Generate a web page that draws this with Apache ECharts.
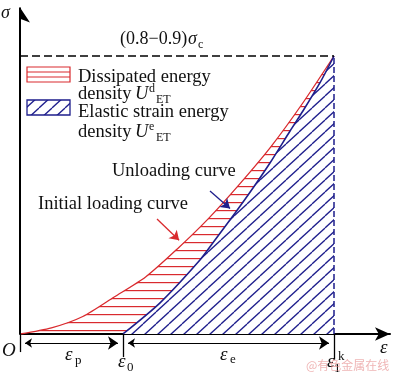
<!DOCTYPE html>
<html><head><meta charset="utf-8">
<script src="https://cdn.jsdelivr.net/npm/echarts/dist/echarts.min.js"></script>
<style>html,body{margin:0;padding:0;background:#fff}#c{width:400px;height:376px}</style>
</head><body><div id="c"></div>
<script>
// ---- data (normalised strain / stress) ----
const loadStrain   = [0, 0.1, 0.2, 0.3, 0.4, 0.5, 0.6, 0.7, 0.8, 0.9, 1.0];
const loadStress   = [0, 0.022, 0.063, 0.133, 0.205, 0.305, 0.415, 0.54, 0.675, 0.83, 1.0];
const unloadStrain = [0.328, 0.446, 0.573, 0.621, 0.685, 0.742, 0.796, 0.860, 0.901, 0.955, 1.0];
const unloadStress = [0, 0.112, 0.266, 0.338, 0.435, 0.525, 0.615, 0.730, 0.802, 0.903, 1.0];
const strainMarks  = [0, 0.328, 1.0];          // O, eps0, eps1k
const tickDepth    = [0.065, 0.083, 0.092];     // dimension tick lengths below axis
const peakStress   = 1.0;
const dimLevel     = -0.0324;
const redArrow     = [[0.4363, 0.4137], [0.5067, 0.3374]];
const blueArrow    = [[0.6051, 0.5144], [0.6688, 0.4518]];

const RED = '#d92a2e', NAVY = '#1e1e8c';
const SERIF = '"Liberation Serif","Times New Roman",serif';

function makePattern(w, h, draw) {
  const c = document.createElement('canvas'); c.width = w; c.height = h;
  const g = c.getContext('2d'); draw(g, w, h); return c;
}
const redPat = makePattern(4, 8, (g, w, h) => { g.fillStyle = RED; g.fillRect(0, 2, w, 1.2); });
const bluePat = makePattern(13, 12, (g, w, h) => {
  g.fillStyle = '#fff'; g.fillRect(0, 0, w, h);
  g.strokeStyle = NAVY; g.lineWidth = 1.3;
  for (let k = -1; k <= 1; k++) { g.beginPath(); g.moveTo(0, h + k * h); g.lineTo(w, k * h); g.stroke(); }
});

const pair = (xs, ys) => xs.map((x, i) => [x, ys[i]]);

function T(x, base, text, size, opt) {
  opt = opt || {};
  return { type: 'text', x: x, y: base - 0.34 * size, z: 100,
    style: { text: text, fontSize: size, fontFamily: opt.family || SERIF,
      fontStyle: opt.italic ? 'italic' : 'normal', fill: opt.color || '#111',
      verticalAlign: 'middle', align: 'left' } };
}
function L(x1, y1, x2, y2, color, w) {
  return { type: 'line', z: 91, shape: { x1, y1, x2, y2 }, style: { stroke: color, lineWidth: w } };
}

const chart = echarts.init(document.getElementById('c'), null, { renderer: 'canvas' });
const pxU = 1 / 314;
const inset = 5 * pxU;
const dimData = [
  { coords: [[strainMarks[0] + inset, dimLevel], [strainMarks[1] - inset, dimLevel]] },
  { coords: [[strainMarks[1] + inset, dimLevel], [strainMarks[2] - inset, dimLevel]] }
];
const tickData = strainMarks.map((m, i) => ({ coords: [[m, 0], [m, -tickDepth[i]]] }));

chart.setOption({
  animation: false,
  grid: { left: 20, right: 10, top: 0, bottom: 0 },
  xAxis: { type: 'value', min: 0, max: 1.1783,
    axisLine: { onZero: true, lineStyle: { color: '#000', width: 2 }, symbol: ['none', 'arrow'], symbolSize: [10, 15] },
    axisTick: { show: false }, axisLabel: { show: false }, splitLine: { show: false } },
  yAxis: { type: 'value', min: -0.1511, max: 1.2014,
    axisLine: { show: false }, axisTick: { show: false }, axisLabel: { show: false }, splitLine: { show: false } },
  series: [
    { type: 'line', z: 2, data: pair(loadStrain, loadStress), symbol: 'none', smooth: 0.25,
      lineStyle: { color: RED, width: 1.3 }, areaStyle: { color: { image: redPat, repeat: 'repeat' }, opacity: 1 } },
    { type: 'line', z: 3, data: pair(unloadStrain, unloadStress), symbol: 'none', smooth: 0.25,
      lineStyle: { color: NAVY, width: 1.6 }, areaStyle: { color: { image: bluePat, repeat: 'repeat' }, opacity: 1 } },
    { type: 'lines', coordinateSystem: 'cartesian2d', z: 4, symbol: 'none',
      lineStyle: { color: '#000', width: 1.5, type: [8, 4], opacity: 1 },
      data: [{ coords: [[0, peakStress], [strainMarks[2], peakStress]] }] },
    { type: 'lines', coordinateSystem: 'cartesian2d', z: 4, symbol: 'none',
      lineStyle: { color: NAVY, width: 1.5, type: [6, 3], opacity: 1 },
      data: [{ coords: [[strainMarks[2], 0], [strainMarks[2], peakStress]] }] },
    { type: 'lines', coordinateSystem: 'cartesian2d', z: 5, symbol: ['none', 'arrow'], symbolSize: [10, 15],
      lineStyle: { color: '#000', width: 2, opacity: 1 },
      data: [{ coords: [[0, 0], [0, 1.1745]] }] },
    { type: 'lines', coordinateSystem: 'cartesian2d', z: 5, symbol: 'none',
      lineStyle: { color: '#000', width: 1.3, opacity: 1 }, data: tickData },
    { type: 'lines', coordinateSystem: 'cartesian2d', z: 5, symbol: ['arrow', 'arrow'], symbolSize: [7, 10],
      lineStyle: { color: '#000', width: 1.2, opacity: 1 }, data: dimData },
    { type: 'lines', coordinateSystem: 'cartesian2d', z: 6, symbol: ['none', 'arrow'], symbolSize: [7, 9],
      data: [
        { coords: redArrow, lineStyle: { color: RED, width: 1.3, opacity: 1 } },
        { coords: blueArrow, lineStyle: { color: NAVY, width: 1.3, opacity: 1 } }
      ] }
  ],
  graphic: [
    // legend boxes
    { type: 'rect', z: 90, shape: { x: 27, y: 67, width: 43, height: 15 },
      style: { fill: '#fff', stroke: RED, lineWidth: 1.2 } },
    L(27, 72, 70, 72, RED, 1.1), L(27, 77, 70, 77, RED, 1.1),
    { type: 'rect', z: 90, shape: { x: 27, y: 100, width: 43, height: 15 },
      style: { fill: { image: bluePat, repeat: 'repeat' }, stroke: NAVY, lineWidth: 1.3 } },
    T(78, 83, 'Dissipated energy', 18.5),
    T(78, 100, 'density', 18.5), T(135, 100, 'U', 18.5, { italic: true }),
    T(149, 93, 'd', 12), T(156, 104, 'ET', 12),
    T(78, 118, 'Elastic strain energy', 18.5),
    T(78, 138, 'density', 18.5), T(135, 138, 'U', 18.5, { italic: true }),
    T(149, 131, 'e', 12), T(156, 142, 'ET', 12),
    T(120, 45, '(0.8\u22120.9)', 18), T(188, 45, '\u03c3', 18, { italic: true }), T(198, 49, 'c', 12),
    T(112, 177, 'Unloading curve', 18.5),
    T(38, 210, 'Initial loading curve', 18.5),
    T(1, 19, '\u03c3', 18, { italic: true }),
    T(2, 357, 'O', 19, { italic: true }),
    T(380, 354, '\u03b5', 19, { italic: true }),
    T(65, 361, '\u03b5', 19, { italic: true }), T(75, 365, 'p', 13),
    T(118, 368, '\u03b5', 19, { italic: true }), T(127, 372, '0', 13),
    T(220, 361, '\u03b5', 19, { italic: true }), T(230, 364, 'e', 13),
    T(327, 368, '\u03b5', 19, { italic: true }), T(334, 373, '1', 13), T(338, 361, 'k', 13),
    T(306, 370, '@\u6709\u8272\u91d1\u5c5e\u5728\u7ebf', 12, { color: 'rgba(225,120,120,0.55)', family: '"Noto Sans CJK SC",sans-serif' })
  ]
});
</script></body></html>
